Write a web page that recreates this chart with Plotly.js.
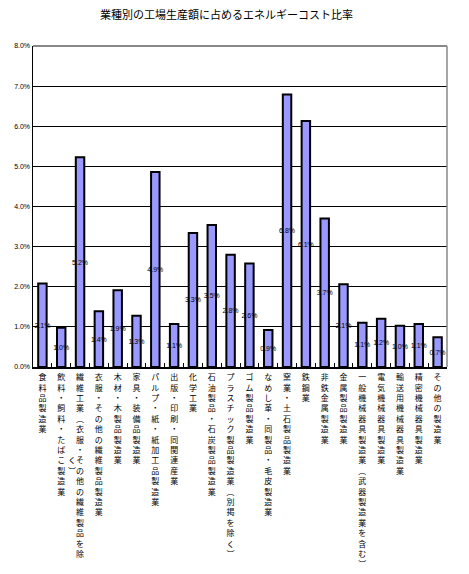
<!DOCTYPE html>
<html>
<head>
<meta charset="utf-8">
<script src="https://cdn.plot.ly/plotly-3.0.1.min.js"></script>
<style>html,body{margin:0;padding:0;background:#fff;}</style>
</head>
<body>
<div id="chart" style="width:469px;height:574px;"></div>
<script>
// Categories ("|" marks the wrapped second column of a vertical label)
const categories = [
  "食料品製造業",
  "飲料・飼料・たばこ製造業",
  "繊維工業︵衣服・その他の繊維製品を除|く︶",
  "衣服・その他の繊維製品製造業",
  "木材・木製品製造業",
  "家具・装備品製造業",
  "パルプ・紙・紙加工品製造業",
  "出版・印刷・同関連産業",
  "化学工業",
  "石油製品・石炭製品製造業",
  "プラスチック製品製造業︵別掲を除く︶",
  "ゴム製品製造業",
  "なめし革・同製品・毛皮製造業",
  "窯業・土石製品製造業",
  "鉄鋼業",
  "非鉄金属製造業",
  "金属製品製造業",
  "一般機械器具製造業︵武器製造業を含む︶",
  "電気機械器具製造業",
  "輸送用機械器具製造業",
  "精密機械器具製造業",
  "その他の製造業"
];
// Energy cost share (%)
const values = [2.08, 0.98, 5.23, 1.39, 1.91, 1.28, 4.86, 1.07, 3.34, 3.54, 2.80,
                2.58, 0.92, 6.79, 6.13, 3.70, 2.06, 1.10, 1.20, 1.03, 1.07, 0.74];
const yTickVals = [0, 1, 2, 3, 4, 5, 6, 7, 8];
const titleText = "業種別の工場生産額に占めるエネルギーコスト比率";

function verticalLabel(name) {
  const parts = name.split("|");
  const main = Array.from(parts[0]);
  const second = parts[1] ? Array.from(parts[1]) : [];
  const start = Math.floor((main.length - second.length) / 2);
  return main.map((c, i) => {
    const j = i - start;
    if (second.length && j >= 0 && j < second.length) {
      return second[j] + c + "\u3000";
    }
    return c;
  }).join("<br>");
}
const tickText = categories.map(verticalLabel);

const trace = {
  type: "bar",
  x: tickText,
  y: values,
  marker: {color: "#9999ff", line: {color: "#000000", width: 2}},
  text: values.map(v => v.toFixed(1) + "%"),
  textposition: "inside",
  insidetextanchor: "middle",
  constraintext: "none",
  textangle: 0,
  insidetextfont: {family: "Liberation Sans, Arial, sans-serif", size: 7, color: "#000"},
  hoverinfo: "none",
  cliponaxis: false
};

const layout = {
  width: 469, height: 574,
  margin: {l: 33, r: 22, t: 46, b: 207, pad: 0},
  paper_bgcolor: "#ffffff",
  plot_bgcolor: "#ffffff",
  showlegend: false,
  bargap: 0.55,
  title: {
    text: titleText,
    font: {family: "Noto Sans CJK JP, sans-serif", size: 11, color: "#000"},
    x: 0.483, xref: "container", xanchor: "center",
    y: 1 - 15 / 574, yref: "container", yanchor: "middle"
  },
  xaxis: {
    type: "category",
    tickangle: 0,
    tickson: "boundaries",
    ticks: "inside", ticklen: 4, tickcolor: "#000", tickwidth: 1,
    showgrid: false,
    zeroline: false,
    showline: true, linecolor: "#000", linewidth: 1.5,
    tickfont: {family: "Noto Sans CJK JP, sans-serif", size: 8, color: "#000"},
    ticklabelstandoff: 2,
    automargin: false,
    fixedrange: true
  },
  yaxis: {
    range: [0, 8],
    tickmode: "array",
    tickvals: yTickVals,
    ticktext: yTickVals.map(v => v.toFixed(1) + "%"),
    showgrid: true, gridcolor: "#000", gridwidth: 1,
    zeroline: false,
    showline: true, linecolor: "#000", linewidth: 1.5,
    ticks: "",
    tickfont: {family: "Liberation Sans, Arial, sans-serif", size: 7, color: "#000"},
    automargin: false,
    fixedrange: true
  },
  shapes: [
    {type: "line", xref: "paper", yref: "paper", x0: 0, x1: 1, y0: 1, y1: 1,
     line: {color: "#888", width: 2}},
    {type: "line", xref: "paper", yref: "paper", x0: 1, x1: 1, y0: 0, y1: 1,
     line: {color: "#888", width: 1.5}}
  ]
};

Plotly.newPlot("chart", [trace], layout, {displayModeBar: false, staticPlot: true});
</script>
</body>
</html>
